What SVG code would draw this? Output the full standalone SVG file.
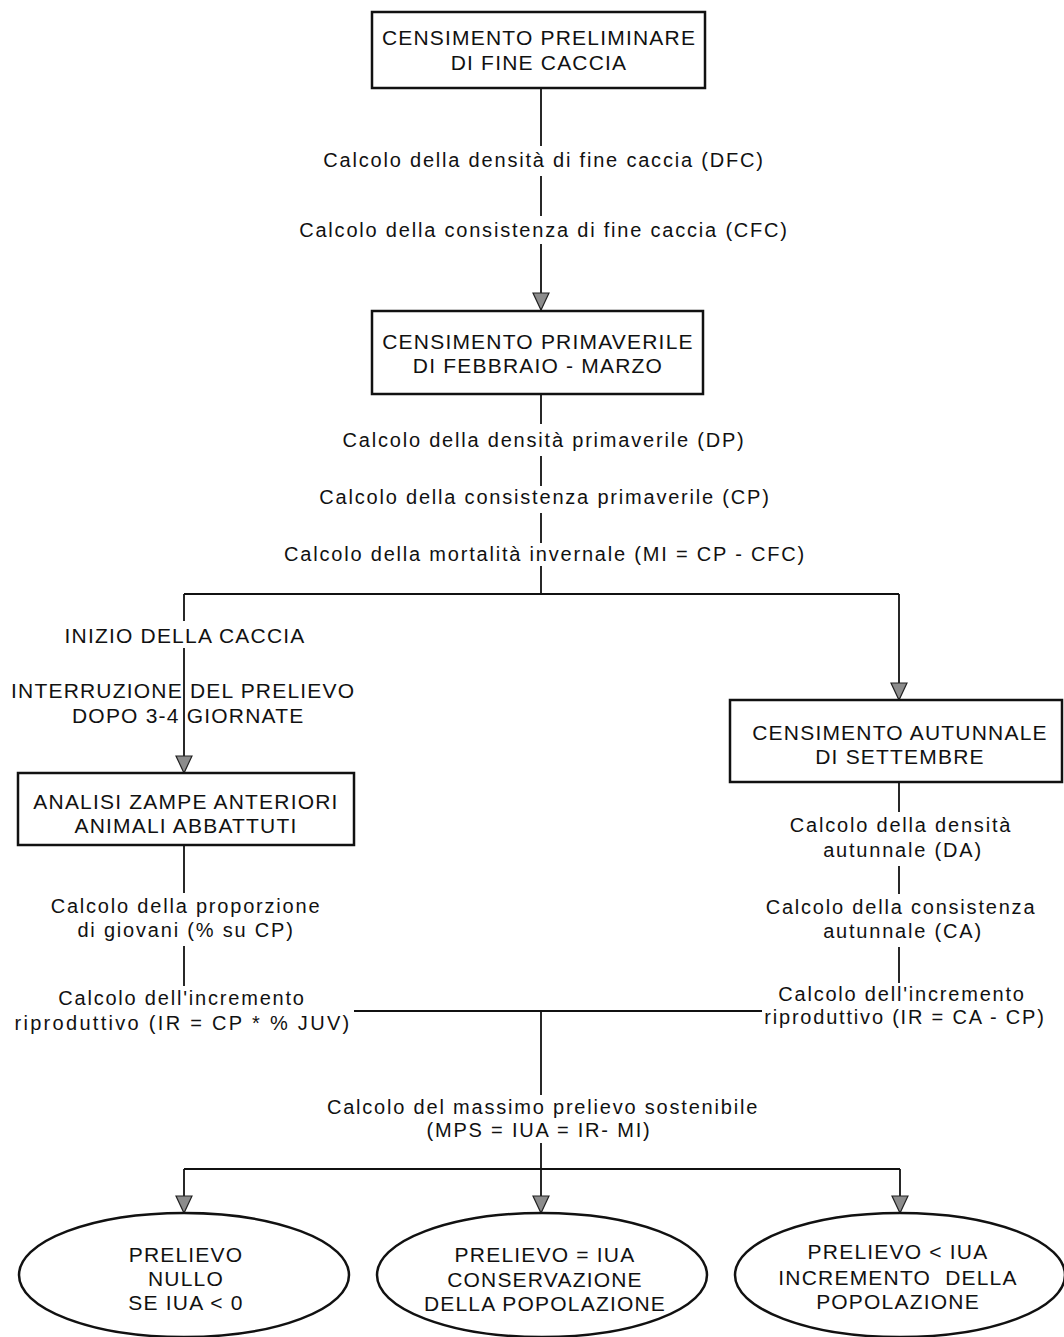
<svg xmlns="http://www.w3.org/2000/svg" width="1064" height="1337" viewBox="0 0 1064 1337">
<style>
.bg{fill:#ffffff}
.box{fill:#ffffff;stroke:#111;stroke-width:2.5}
.ell{fill:#ffffff;stroke:#111;stroke-width:2.5}
.ln{fill:none;stroke:#111;stroke-width:1.8}
.cap{font-family:"Liberation Sans",Arial,sans-serif;font-size:21px;letter-spacing:1.2px;fill:#111}
.txt{font-family:"Liberation Sans",Arial,sans-serif;font-size:20px;letter-spacing:1.8px;fill:#111}
.m{text-anchor:middle}
</style>
<defs>
<marker id="arr" markerUnits="userSpaceOnUse" markerWidth="20" markerHeight="18" viewBox="0 0 20 18" refX="18" refY="9" orient="auto">
<path d="M1,1 L18,9 L1,17 Z" fill="#8c8c8c" stroke="#222" stroke-width="1.2"/>
</marker>
</defs>
<rect class="bg" x="0" y="0" width="1064" height="1337"/>

<g id="connectors">
<path class="ln" d="M541,88 V146"/>
<path class="ln" d="M541,176 V216"/>
<path class="ln" d="M541,244 V310" marker-end="url(#arr)"/>
<path class="ln" d="M541,394 V424"/>
<path class="ln" d="M541,456 V486"/>
<path class="ln" d="M541,513 V543"/>
<path class="ln" d="M541,566 V594"/>
<path class="ln" d="M184,594 H899"/>
<path class="ln" d="M184,594 V621"/>
<path class="ln" d="M184,648 V773" marker-end="url(#arr)"/>
<path class="ln" d="M899,594 V700" marker-end="url(#arr)"/>
<path class="ln" d="M899,782 V812"/>
<path class="ln" d="M899,866 V894"/>
<path class="ln" d="M899,947 V983"/>
<path class="ln" d="M184,845 V893"/>
<path class="ln" d="M184,946 V986"/>
<path class="ln" d="M354,1011 H762"/>
<path class="ln" d="M541,1011 V1095"/>
<path class="ln" d="M541,1143 V1213" marker-end="url(#arr)"/>
<path class="ln" d="M184,1169 H900"/>
<path class="ln" d="M184,1169 V1213" marker-end="url(#arr)"/>
<path class="ln" d="M900,1169 V1213" marker-end="url(#arr)"/>
</g>

<g id="n_censimento_preliminare">
<rect class="box" x="372" y="12" width="333" height="76"/>
<text class="cap m" x="539" y="45">CENSIMENTO PRELIMINARE</text>
<text class="cap m" x="539" y="70">DI FINE CACCIA</text>
</g>

<g id="l_dfc"><text class="txt m" x="544" y="167">Calcolo della densità di fine caccia (DFC)</text></g>
<g id="l_cfc"><text class="txt m" x="544" y="237">Calcolo della consistenza di fine caccia (CFC)</text></g>

<g id="n_censimento_primaverile">
<rect class="box" x="372" y="311" width="331" height="83"/>
<text class="cap m" x="538" y="349">CENSIMENTO PRIMAVERILE</text>
<text class="cap m" x="538" y="373">DI FEBBRAIO - MARZO</text>
</g>

<g id="l_dp"><text class="txt m" x="544" y="447">Calcolo della densità primaverile (DP)</text></g>
<g id="l_cp"><text class="txt m" x="545" y="504">Calcolo della consistenza primaverile (CP)</text></g>
<g id="l_mi"><text class="txt m" x="545" y="561">Calcolo della mortalità invernale (MI = CP - CFC)</text></g>

<g id="l_inizio"><text class="cap m" x="185" y="643">INIZIO DELLA CACCIA</text></g>
<g id="l_interruzione">
<text class="cap" x="11" y="698">INTERRUZIONE DEL PRELIEVO</text>
<text class="cap" x="72" y="723">DOPO 3-4 GIORNATE</text>
</g>

<g id="n_analisi">
<rect class="box" x="18" y="773" width="336" height="72"/>
<text class="cap m" x="186" y="809">ANALISI ZAMPE ANTERIORI</text>
<text class="cap m" x="186" y="833">ANIMALI ABBATTUTI</text>
</g>

<g id="n_censimento_autunnale">
<rect class="box" x="730" y="700" width="332" height="82"/>
<text class="cap m" x="900" y="740">CENSIMENTO AUTUNNALE</text>
<text class="cap m" x="900" y="764">DI SETTEMBRE</text>
</g>

<g id="l_da">
<text class="txt m" x="901" y="832">Calcolo della densità</text>
<text class="txt m" x="903" y="857">autunnale (DA)</text>
</g>
<g id="l_ca">
<text class="txt m" x="901" y="914">Calcolo della consistenza</text>
<text class="txt m" x="903" y="938">autunnale (CA)</text>
</g>
<g id="l_ir_right">
<text class="txt m" x="902" y="1001">Calcolo dell'incremento</text>
<text class="txt m" x="905" y="1024">riproduttivo (IR = CA - CP)</text>
</g>

<g id="l_proporzione">
<text class="txt m" x="186" y="913">Calcolo della proporzione</text>
<text class="txt m" x="186" y="937">di giovani (% su CP)</text>
</g>
<g id="l_ir_left">
<text class="txt m" x="182" y="1005">Calcolo dell'incremento</text>
<text class="txt m" x="183" y="1030" style="letter-spacing:2.3px">riproduttivo (IR = CP * % JUV)</text>
</g>

<g id="l_mps">
<text class="txt m" x="543" y="1114">Calcolo del massimo prelievo sostenibile</text>
<text class="txt m" x="539" y="1137">(MPS = IUA = IR- MI)</text>
</g>

<g id="n_prelievo_nullo">
<ellipse class="ell" cx="184" cy="1275" rx="165" ry="62"/>
<text class="cap m" x="186" y="1262">PRELIEVO</text>
<text class="cap m" x="186" y="1286">NULLO</text>
<text class="cap m" x="186" y="1310">SE IUA &lt; 0</text>
</g>

<g id="n_prelievo_iua">
<ellipse class="ell" cx="542" cy="1275" rx="165" ry="62"/>
<text class="cap m" x="545" y="1262">PRELIEVO = IUA</text>
<text class="cap m" x="545" y="1287">CONSERVAZIONE</text>
<text class="cap m" x="545" y="1311">DELLA POPOLAZIONE</text>
</g>

<g id="n_prelievo_minore">
<ellipse class="ell" cx="900" cy="1275" rx="165" ry="62"/>
<text class="cap m" x="898" y="1259">PRELIEVO &lt; IUA</text>
<text class="cap m" x="898" y="1285" xml:space="preserve">INCREMENTO  DELLA</text>
<text class="cap m" x="898" y="1309">POPOLAZIONE</text>
</g>
</svg>
